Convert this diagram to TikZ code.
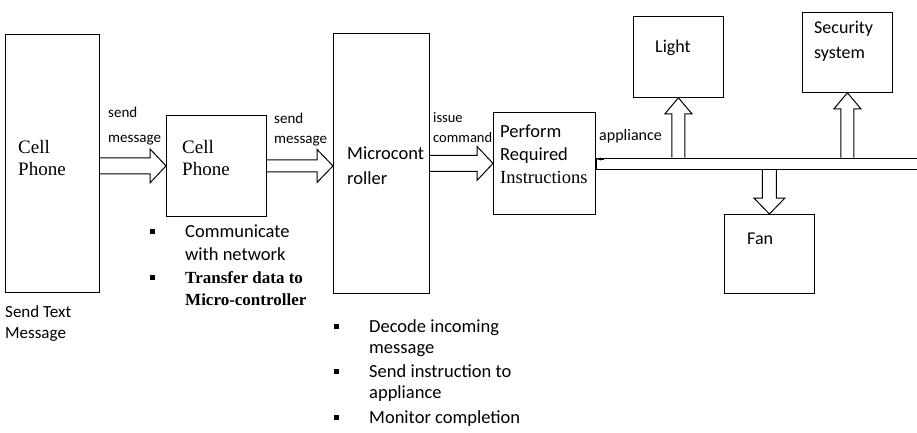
\documentclass[tikz,border=0pt]{standalone}
\usepackage{fontspec}
\setmainfont{Carlito}
\newfontfamily\tms{Liberation Serif}
\usetikzlibrary{calc,arrows.meta}
\newcommand{\setfs}[2]{\fontsize{#1}{#2}\selectfont}
% hollow block arrow: from, to, half shaft, half head
\newcommand{\blockarrow}[4]{%
\coordinate (ba-h) at ($(#2)!16pt!(#1)$);
\draw[hollow] ($(#1)!#3!90:(#2)$) -- ($(ba-h)!#3!90:(#2)$) -- ($(ba-h)!#4!90:(#2)$) -- (#2)
  -- ($(ba-h)!#4!-90:(#2)$) -- ($(ba-h)!#3!-90:(#2)$) -- ($(#1)!#3!-90:(#2)$);}
\tikzset{
box/.style={draw,line width=.8pt,inner sep=0,anchor=north west},
hollow/.style={draw,line width=1pt,line join=miter},
lbl/.style={inner sep=0,anchor=base west,align=left},
bullet/.style={fill,inner sep=0,minimum size=5pt}
}
\begin{document}
\begin{tikzpicture}[x=1pt,y=-1pt]
\useasboundingbox (0,0) rectangle (917,432);
% boxes
\node[box,minimum width=94pt,minimum height=258pt] (cp1) at (5,34) {};
\node[box,minimum width=100pt,minimum height=101pt] (cp2) at (166,115) {};
\node[box,minimum width=96pt,minimum height=260pt] (mc) at (333,33) {};
\node[box,minimum width=102pt,minimum height=102pt] (perf) at (493,112) {};
\node[box,minimum width=90pt,minimum height=81pt] (light) at (633,16) {};
\node[box,minimum width=90pt,minimum height=80pt] (sec) at (802,12) {};
\node[box,minimum width=90pt,minimum height=79pt] (fan) at (724,214) {};
\node[box,anchor=west,minimum width=321pt,minimum height=11pt] (bus) at (perf.east) {};
% texts in boxes (base = last line)
\node[lbl,font=\tms\setfs{19}{22}] (cp1t) at (18,175) {Cell\\Phone};
\node[lbl,font=\tms\setfs{19}{22}] (cp2t) at (182,175) {Cell\\Phone};
\node[lbl,font=\setfs{18.5}{25}] (mct) at (347,184) {Microcont\\roller};
\node[lbl,font=\setfs{18.5}{23}] (perft) at (500,183) {Perform\\Required\\{\tms Instructions}};
\node[lbl,font=\setfs{18}{22}] (lightt) at (655,52) {Light};
\node[lbl,font=\setfs{18}{25}] (sect) at (814,58) {Security\\system};
\node[lbl,font=\setfs{18}{22}] (fant) at (747,244) {Fan};
% arrow labels
\node[lbl,font=\setfs{15}{25}] (send1) at (108,142) {send\\message};
\node[lbl,font=\setfs{15}{20}] (send2) at (274,143) {send\\message};
\node[lbl,font=\setfs{14.5}{20}] (issue) at (433,142) {issue\\command};
\node[lbl,font=\setfs{16}{20}] (appl) at (599,140) {appliance};
\node[lbl,font=\setfs{17}{21}] (sendtxt) at (5,338) {Send Text\\Message};
% block arrows
\blockarrow{cp2.west -| cp1.east}{cp2.west}{8pt}{17pt}
\blockarrow{cp2.east}{mc.west |- cp2.east}{6pt}{16.5pt}
\blockarrow{mc.east}{perf.west |- mc.east}{8pt}{17pt}
\blockarrow{light.south |- bus.north}{light.south}{6.5pt}{13.5pt}
\blockarrow{sec.south |- bus.north}{sec.south}{6.5pt}{13.5pt}
\blockarrow{fan.north |- bus.south}{fan.north}{7pt}{15.5pt}
\draw[-{Stealth[length=4pt,width=3pt]},line width=.4pt] ($(bus.north west)+(8,1.5)$) -- ($(bus.north west)+(1,1.5)$);
% bullet lists
\node[bullet] (b1) at (152,231) {};
\node[bullet] (b2) at (152,277) {};
\node[lbl,font=\setfs{18.5}{23}] (l1) at (185,260) {Communicate\\with network};
\node[lbl,font=\tms\bfseries\setfs{17}{22}] (l2) at (185,305) {Transfer data to\\Micro-controller};
\node[bullet] (b3) at (336,326) {};
\node[bullet] (b4) at (336,371) {};
\node[bullet] (b5) at (336,417) {};
\node[lbl,font=\setfs{18.5}{21}] (m1) at (369,353) {Decode incoming\\message};
\node[lbl,font=\setfs{18.5}{21}] (m2) at (369,398) {Send instruction to\\appliance};
\node[lbl,font=\setfs{18.5}{21}] (m3) at (369,423) {Monitor completion};
\end{tikzpicture}
\end{document}
